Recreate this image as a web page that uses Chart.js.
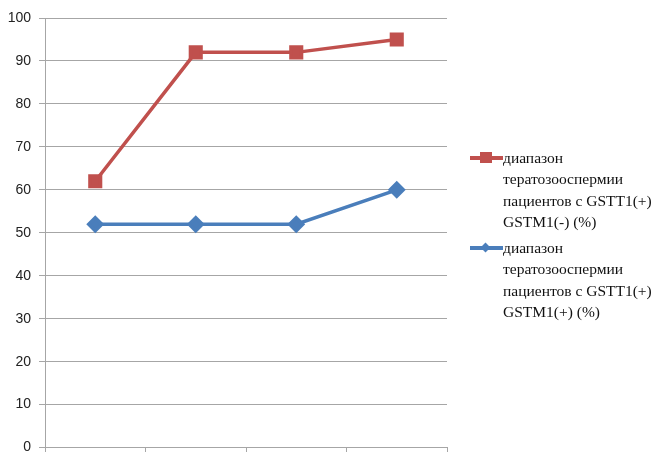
<!DOCTYPE html>
<html>
<head>
<meta charset="utf-8">
<script src="https://cdn.jsdelivr.net/npm/chart.js@4.4.1/dist/chart.umd.min.js"></script>
<style>
  html, body { margin: 0; padding: 0; background: #fff; }
  #wrap { position: relative; width: 657px; height: 452px; overflow: hidden; }
  #chart { position: absolute; left: 0; top: 0; }
  #legend { position: absolute; left: 470px; top: 147px; width: 187px;
            font-family: "Liberation Serif", "Times New Roman", serif; font-size: 15.5px;
            line-height: 21.3px; color: #111; }
  .item { position: relative; padding-left: 33px; margin-bottom: 5px; }
  .mark { position: absolute; left: 0; top: 9px; width: 33px; height: 4px; }
  .mark i { position: absolute; left: 10px; top: -4px; width: 12px; height: 11px; }
  .mark i.dia { transform: rotate(45deg); left: 12px; top: -2.5px; width: 7px; height: 7px; }
</style>
</head>
<body>
<div id="wrap">
  <canvas id="chart" width="657" height="464"></canvas>
  <div id="legend"></div>
</div>
<script>
// Categories (x positions) and the two series, in percent
const categories = ['1', '2', '3', '4'];
const seriesNegLabel = 'диапазон тератозооспермии пациентов с GSTT1(+) GSTM1(-) (%)';
const seriesNeg = [62, 92, 92, 95];
const seriesPosLabel = 'диапазон тератозооспермии пациентов с GSTT1(+) GSTM1(+) (%)';
const seriesPos = [52, 52, 52, 60];
const yTicks = [0, 10, 20, 30, 40, 50, 60, 70, 80, 90, 100];

const RED = '#C0504D';
const BLUE = '#4A7EBB';

const chart = new Chart(document.getElementById('chart'), {
  type: 'line',
  data: {
    labels: categories,
    datasets: [
      { label: seriesNegLabel, data: seriesNeg, borderColor: RED, backgroundColor: RED,
        borderWidth: 3.5, pointStyle: 'rect', pointRadius: 7.5, pointHoverRadius: 7.5,
        tension: 0, fill: false },
      { label: seriesPosLabel, data: seriesPos, borderColor: BLUE, backgroundColor: BLUE,
        borderWidth: 3.5, pointStyle: 'rectRot', pointRadius: 6.5, pointHoverRadius: 6.5,
        tension: 0, fill: false }
    ]
  },
  options: {
    responsive: false,
    animation: false,
    events: [],
    layout: { padding: { top: 18, right: 210, left: 0, bottom: 0 } },
    plugins: { legend: { display: false }, tooltip: { enabled: false } },
    scales: {
      x: {
        offset: true,
        grid: { offset: true, drawOnChartArea: false, drawTicks: true, tickLength: 6,
                color: '#a6a6a6', lineWidth: 1 },
        border: { display: true, color: '#a6a6a6', width: 1 },
        ticks: { display: false },
        afterFit: s => { s.height = 5; }
      },
      y: {
        min: 0, max: 100,
        afterBuildTicks: s => { s.ticks = yTicks.map(v => ({ value: v })); },
        grid: { color: '#a6a6a6', lineWidth: 1, tickLength: 6, drawTicks: true },
        border: { display: true, color: '#a6a6a6', width: 1 },
        ticks: { color: '#222', padding: 8, font: { family: 'Liberation Sans', size: 14 } },
        afterFit: s => { s.width = 45; }
      }
    }
  }
});

// Legend built from the dataset labels, with wrapped text to the right of the plot
const legend = document.getElementById('legend');
const lines = [
  ['диапазон', 'тератозооспермии', 'пациентов с GSTT1(+)', 'GSTM1(-) (%)'],
  ['диапазон', 'тератозооспермии', 'пациентов с GSTT1(+)', 'GSTM1(+) (%)']
];
chart.data.datasets.forEach((ds, i) => {
  const item = document.createElement('div');
  item.className = 'item';
  const mark = document.createElement('span');
  mark.className = 'mark';
  mark.style.background = ds.borderColor;
  const dot = document.createElement('i');
  dot.style.background = ds.borderColor;
  if (ds.pointStyle === 'rectRot') dot.className = 'dia';
  mark.appendChild(dot);
  item.appendChild(mark);
  const txt = document.createElement('div');
  txt.innerHTML = lines[i].join('<br>');
  item.appendChild(txt);
  legend.appendChild(item);
});
</script>
</body>
</html>
